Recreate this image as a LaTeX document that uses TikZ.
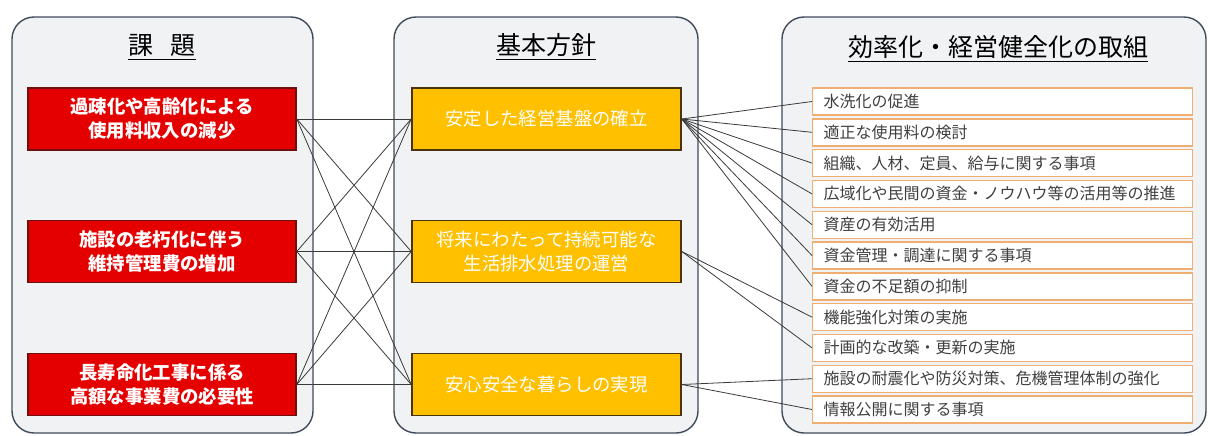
\documentclass[tikz,border=0pt]{standalone}
\usepackage{fontspec}
\setmainfont{Noto Sans CJK JP}
\usepackage{tikz}
\usetikzlibrary{positioning}

\definecolor{panelfill}{HTML}{F1F2F4}
\definecolor{paneldraw}{HTML}{3F4A5A}
\definecolor{issuered}{HTML}{E50000}
\definecolor{issuedraw}{HTML}{6E1010}
\definecolor{policyorange}{HTML}{FFC000}
\definecolor{policydraw}{HTML}{4A3410}
\definecolor{itemdraw}{HTML}{F0AE72}
\definecolor{itemtext}{HTML}{404040}
\definecolor{linkgray}{HTML}{3A3A3A}

\tikzset{
  panel/.style={draw=paneldraw, fill=panelfill, line width=0.7pt, rounded corners=11pt},
  heading/.style={font=\fontsize{12.5}{14}\selectfont, text=black},
  issue/.style={draw=issuedraw, fill=issuered, line width=0.8pt, text=white,
    font=\fontsize{9.2}{12}\selectfont\bfseries, align=center,
    minimum width=134pt, minimum height=31pt, inner sep=0pt},
  policy/.style={draw=policydraw, fill=policyorange, line width=0.8pt, text=white,
    font=\fontsize{9.2}{12}\selectfont, align=center,
    minimum width=134.5pt, minimum height=31pt, inner sep=0pt},
  item/.style={draw=itemdraw, fill=white, line width=0.7pt, text=itemtext,
    font=\fontsize{8}{9}\selectfont, anchor=west, text width=179pt,
    minimum height=13.5pt, inner xsep=5.5pt, inner ysep=0pt, align=left},
  link/.style={draw=linkgray, line width=0.4pt}
}

\begin{document}
\begin{tikzpicture}[x=0.5pt, y=-0.5pt]
  \useasboundingbox (0,0) rectangle (1210,435);

  % panels
  \draw [panel] (12,17) rectangle (313,433);
  \draw [panel] (394,17) rectangle (698,433);
  \draw [panel] (782,17) rectangle (1206,433);

  \node [heading] (head1) at (162,47) {\underline{課\hspace{0.7em}題}};
  \node [heading] (head2) at (546,47) {\underline{基本方針}};
  \node [heading] (head3) at (998,49) {\underline{効率化・経営健全化の取組}};

  % issues
  \node [issue] (issue1) at (162,119) {過疎化や高齢化による\\使用料収入の減少};
  \node [issue] (issue2) at (162,251.5) {施設の老朽化に伴う\\維持管理費の増加};
  \node [issue] (issue3) at (162,384.5) {長寿命化工事に係る\\高額な事業費の必要性};

  % policies
  \node [policy] (policy1) at (546.5,119) {安定した経営基盤の確立};
  \node [policy] (policy2) at (546.5,251.5) {将来にわたって持続可能な\\生活排水処理の運営};
  \node [policy] (policy3) at (546.5,384.5) {安心安全な暮らしの実現};

  % measures
  \node [item] (item1) at (812,101.5) {水洗化の促進};
  \node [item] (item2) at (812,132.3) {適正な使用料の検討};
  \node [item] (item3) at (812,163.1) {組織、人材、定員、給与に関する事項};
  \node [item] (item4) at (812,193.9) {広域化や民間の資金・ノウハウ等の活用等の推進};
  \node [item] (item5) at (812,224.7) {資産の有効活用};
  \node [item] (item6) at (812,255.5) {資金管理・調達に関する事項};
  \node [item] (item7) at (812,286.3) {資金の不足額の抑制};
  \node [item] (item8) at (812,317.1) {機能強化対策の実施};
  \node [item] (item9) at (812,347.9) {計画的な改築・更新の実施};
  \node [item] (item10) at (812,378.7) {施設の耐震化や防災対策、危機管理体制の強化};
  \node [item] (item11) at (812,409.5) {情報公開に関する事項};

  % issues to policies
  \draw [link] (issue1.east) to (policy1.west);
  \draw [link] (issue1.east) to (policy2.west);
  \draw [link] (issue1.east) to (policy3.west);
  \draw [link] (issue2.east) to (policy1.west);
  \draw [link] (issue2.east) to (policy2.west);
  \draw [link] (issue2.east) to (policy3.west);
  \draw [link] (issue3.east) to (policy1.west);
  \draw [link] (issue3.east) to (policy2.west);
  \draw [link] (issue3.east) to (policy3.west);

  % policies to measures
  \draw [link] (policy1.east) to (item1.west);
  \draw [link] (policy1.east) to (item2.west);
  \draw [link] (policy1.east) to (item3.west);
  \draw [link] (policy1.east) to (item4.west);
  \draw [link] (policy1.east) to (item5.west);
  \draw [link] (policy1.east) to (item6.west);
  \draw [link] (policy1.east) to (item7.west);
  \draw [link] (policy2.east) to (item8.west);
  \draw [link] (policy2.east) to (item9.west);
  \draw [link] (policy3.east) to (item10.west);
  \draw [link] (policy3.east) to (item11.west);
\end{tikzpicture}
\end{document}
